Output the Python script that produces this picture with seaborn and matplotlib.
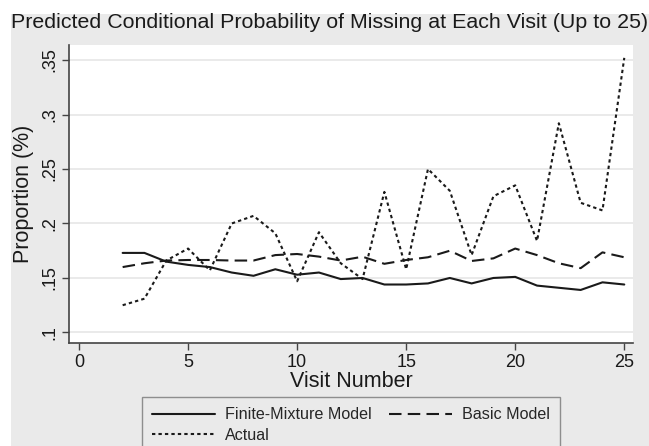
import numpy as np
import pandas as pd
import seaborn as sns
import matplotlib.pyplot as plt
from matplotlib.patches import Rectangle

# Values
visits = list(range(2, 26))
finite_mixture = [0.173, 0.173, 0.165, 0.162, 0.160, 0.155, 0.152, 0.158, 0.153, 0.155, 0.149, 0.150,
                  0.144, 0.144, 0.145, 0.150, 0.145, 0.150, 0.151, 0.143, 0.141, 0.139, 0.146, 0.144]
basic_model = [0.160, 0.1635, 0.166, 0.1665, 0.1665, 0.166, 0.166, 0.171, 0.172, 0.1696, 0.166, 0.1695,
               0.163, 0.1665, 0.169, 0.175, 0.1656, 0.168, 0.177, 0.171, 0.1635, 0.159, 0.1735, 0.169]
actual = [0.125, 0.131, 0.166, 0.177, 0.157, 0.200, 0.207, 0.191, 0.147, 0.192, 0.1635, 0.149,
          0.229, 0.158, 0.250, 0.230, 0.171, 0.225, 0.235, 0.184, 0.292, 0.219, 0.212, 0.352]

x_ticks = [0, 5, 10, 15, 20, 25]
y_ticks = [0.1, 0.15, 0.2, 0.25, 0.3, 0.35]
y_labels = ['.1', '.15', '.2', '.25', '.3', '.35']

bg = '#eaeaea'
ink = '#1a1a1a'

sns.set_style('white')
plt.rcParams['font.family'] = ['Liberation Sans', 'DejaVu Sans']

W, H = 649, 446
fig = plt.figure(figsize=(W / 100, H / 100), dpi=100, facecolor='white')
# grey graph region, thin white margin on the left and top
fig.patches.append(Rectangle((11 / W, 0), 1, 1 - 14 / H, transform=fig.transFigure,
                             facecolor=bg, edgecolor='none', zorder=-1))
ax = fig.add_axes([69 / W, 1 - 342.7 / H, (633 - 69) / W, (342.7 - 45) / H])
ax.set_facecolor('white')

df = pd.DataFrame({'visit': visits, 'fm': finite_mixture, 'basic': basic_model, 'actual': actual})
sns.lineplot(data=df, x='visit', y='fm', ax=ax, color=ink, lw=1.5, label='Finite-Mixture Model')
sns.lineplot(data=df, x='visit', y='basic', ax=ax, color=ink, lw=1.5,
             linestyle=(0, (6, 3)), label='Basic Model')
sns.lineplot(data=df, x='visit', y='actual', ax=ax, color=ink, lw=1.5,
             linestyle=(0, (1.6, 1.5)), label='Actual')

ax.set_xlim(-0.46, 25.4)
ax.set_ylim(0.0906, 0.3638)
ax.set_xticks(x_ticks)
ax.set_yticks(y_ticks)
ax.set_yticklabels(y_labels, rotation=90, va='center')
ax.grid(axis='y', color='#e6e6e6', lw=1.2)
ax.grid(axis='x', visible=False)
for s in ['top', 'right']:
    ax.spines[s].set_visible(False)
for s in ['left', 'bottom']:
    ax.spines[s].set_color('#444444')
    ax.spines[s].set_linewidth(1.2)
ax.tick_params(axis='both', direction='out', length=5, width=1, color='#444444',
               labelsize=13, labelcolor=ink, left=True, bottom=True, pad=3)

ax.set_xlabel('Visit Number', fontsize=15.5, color=ink, labelpad=0)
ax.set_ylabel('Proportion (%)', fontsize=15.5, color=ink, labelpad=5)
fig.text(11 / W, 1 - 23 / H, 'Predicted Conditional Probability of Missing at Each Visit (Up to 25)',
         ha='left', va='center', fontsize=15.4, color=ink)

# legend rows: Finite-Mixture | Basic, then Actual
handles, labels = ax.get_legend_handles_labels()
order = [0, 2, 1]
leg = ax.legend([handles[i] for i in order], [labels[i] for i in order],
                loc='upper left', bbox_to_anchor=(142 / W, 1 - 397 / H), bbox_transform=fig.transFigure,
                borderaxespad=0, ncol=2, fontsize=11.6, frameon=True, fancybox=False,
                handlelength=3.9, handletextpad=0.6, columnspacing=1.1, borderpad=0.65,
                labelspacing=0.35)
leg.get_frame().set_facecolor(bg)
leg.get_frame().set_edgecolor('#777777')
leg.get_frame().set_linewidth(1)

fig.savefig('out.png', dpi=100, facecolor='white')
